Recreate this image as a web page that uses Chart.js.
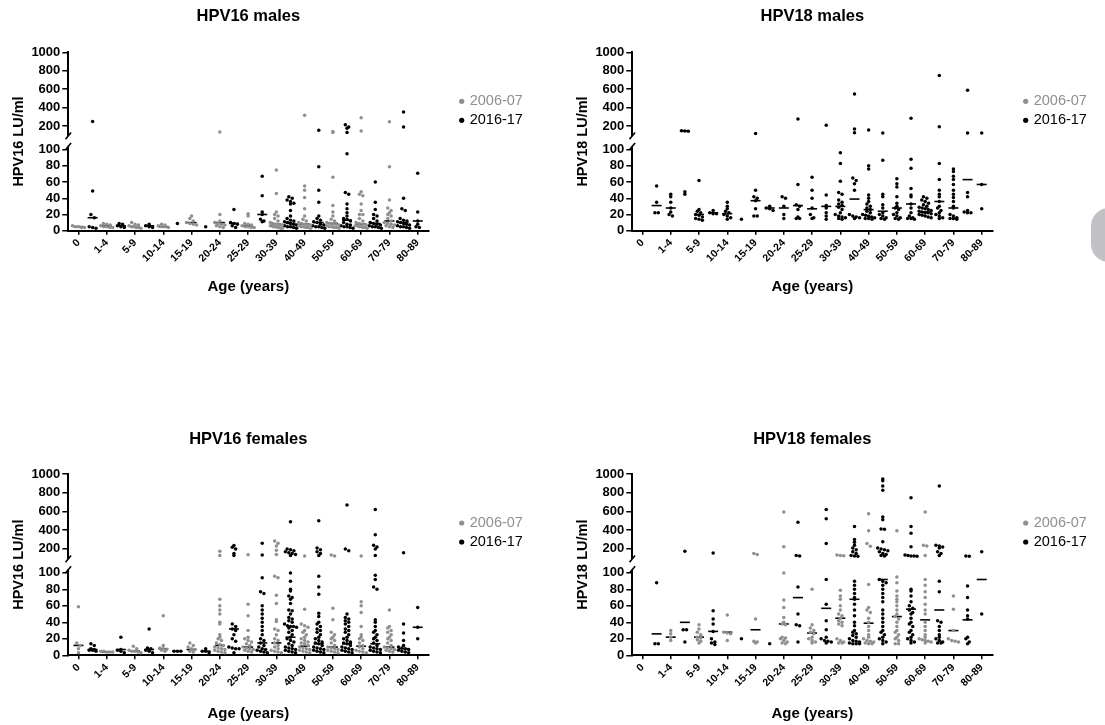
<!DOCTYPE html>
<html>
<head>
<meta charset="utf-8">
<script src="https://cdn.jsdelivr.net/npm/chart.js@4.4.1/dist/chart.umd.min.js"></script>
<style>
  html, body { margin: 0; padding: 0; background: #fff; }
  body { width: 1105px; height: 725px; position: relative; overflow: hidden; }
  .panel { position: absolute; }
  .tab { position: absolute; left: 1091px; top: 208px; width: 40px; height: 54px; border-radius: 18px; background: #c0c1c4; }
</style>
</head>
<body>
<div class="panel" style="left:0;top:0"><canvas id="hpv16Males" width="550" height="300"></canvas></div>
<div class="panel" style="left:564px;top:0"><canvas id="hpv18Males" width="541" height="300"></canvas></div>
<div class="panel" style="left:0;top:422px"><canvas id="hpv16Females" width="550" height="303"></canvas></div>
<div class="panel" style="left:564px;top:422px"><canvas id="hpv18Females" width="541" height="303"></canvas></div>
<div class="tab"></div>
<script>
const ageGroups = ['0', '1-4', '5-9', '10-14', '15-19', '20-24', '25-29', '30-39', '40-49', '50-59', '60-69', '70-79', '80-89'];
const seriesNames = ['2006-07', '2016-17'];
const lowTicks = [0, 20, 40, 60, 80, 100];
const highTicks = [200, 400, 600, 800, 1000];

// HPV16 males, LU/ml per age group
const hpv16MalesOld = [
  [6, 5, 5, 4, 4], [9, 8, 7, 6, 5, 5, 4, 4], [10, 8, 7, 6, 5, 5, 4, 4, 3], [8, 7, 6, 5, 5, 4],
  [18, 15, 12, 10, 9, 8, 7], [135, 20, 12, 10, 9, 8, 7, 6, 5, 4], [21, 18, 9, 8, 7, 6, 5, 5, 4, 4],
  [75, 46, 23, 20, 18, 15, 12, 10, 9, 8, 8, 7, 7, 6, 6, 5, 5, 5, 4, 4, 3, 3],
  [316, 55, 50, 41, 27, 18, 14, 12, 10, 9, 8, 7, 7, 6, 5, 5, 4, 4, 3],
  [140, 130, 66, 31, 23, 18, 14, 12, 10, 9, 8, 8, 7, 6, 5, 5, 4, 4, 3],
  [291, 147, 48, 45, 43, 33, 25, 20, 20, 15, 12, 10, 9, 8, 7, 6, 6, 5, 5, 4, 4, 3],
  [246, 79, 38, 28, 25, 22, 20, 18, 15, 12, 10, 9, 8, 7, 6, 5, 4], []
];
const hpv16MalesOldMedian = [5, 6, 5, 5, 10, 10, 6, 8, 8, 9, 8, 12, null];
const hpv16MalesNew = [
  [248, 49, 20, 16, 5, 4, 3], [9, 8, 6, 5, 4], [8, 6, 5, 4], [9], [5], [26, 10, 9, 8, 6, 4],
  [67, 43, 23, 20, 14, 12, 11],
  [42, 40, 38, 36, 34, 33, 25, 18, 15, 13, 12, 11, 10, 9, 8, 7, 6, 5, 5, 4, 3],
  [153, 79, 50, 35, 18, 15, 13, 11, 10, 8, 7, 6, 5, 5, 4, 3],
  [214, 190, 175, 130, 95, 47, 45, 33, 27, 22, 18, 15, 14, 12, 10, 8, 7, 6, 5, 5, 4, 3],
  [60, 35, 26, 20, 18, 15, 12, 10, 9, 8, 7, 6, 5, 5, 4, 3],
  [353, 189, 40, 27, 25, 15, 13, 12, 11, 10, 9, 8, 7, 6, 5, 5, 4, 3],
  [71, 23, 12, 8, 5, 4]
];
const hpv16MalesNewMedian = [16, 6, 6, null, null, 9, 20, 9, 10, 13, 9, 10, 12];

// HPV18 males
const hpv18MalesOld = [
  [], [45, 42, 35, 28, 23, 20, 18], [62, 26, 24, 22, 20, 19, 17, 15, 14, 13], [35, 30, 27, 24, 22, 20, 18, 16, 14],
  [120, 50, 42, 40, 37, 27, 18, 18], [42, 40, 30, 20, 15], [66, 50, 40, 28, 20, 16, 15],
  [96, 83, 61, 47, 45, 38, 35, 33, 31, 29, 26, 22, 20, 18, 17, 16, 15, 14],
  [157, 80, 76, 44, 40, 36, 33, 30, 28, 26, 24, 22, 20, 19, 18, 17, 16, 15, 15, 14],
  [64, 58, 54, 42, 34, 30, 28, 26, 22, 20, 18, 16, 15, 14],
  [42, 40, 38, 36, 34, 32, 30, 29, 28, 27, 26, 25, 24, 23, 22, 22, 21, 20, 19, 18, 17, 16],
  [76, 73, 67, 63, 57, 50, 45, 41, 36, 30, 28, 20, 18, 16, 15, 15, 14], []
];
const hpv18MalesOldMedian = [null, 28, 20, 21, 37, 28, 27, 30, 26, 28, 23, 28, null];
const hpv18MalesNew = [
  [55, 35, 22, 22], [148, 145, 142, 48, 45], [25, 22, 21, 21], [14], [30, 28, 27, 25],
  [276, 57, 32, 30, 26, 17, 15, 15], [207, 44, 31, 28, 22, 18, 14],
  [547, 167, 128, 65, 62, 58, 50, 20, 18, 17, 16, 15],
  [125, 87, 45, 42, 32, 28, 22, 20, 18, 16, 15, 14],
  [283, 88, 77, 52, 44, 42, 33, 28, 22, 18, 16, 15, 15, 14],
  [747, 193, 83, 63, 50, 45, 42, 36, 30, 28, 25, 22, 20, 18, 16, 15],
  [587, 124, 47, 42, 25, 23, 22, 22], [124, 57, 27]
];
const hpv18MalesNewMedian = [31, 145, 22, null, 28, 31, 30, 39, 24, 33, 36, 63, 57];

// HPV16 females
const hpv16FemalesOld = [
  [59, 15, 12, 8, 3], [5, 5, 4, 4, 4], [11, 8, 6, 5, 5, 4, 3], [48, 12, 9, 8, 7, 6, 5], [15, 12, 10, 8, 7, 5, 4],
  [175, 130, 68, 60, 55, 50, 40, 38, 25, 22, 20, 18, 15, 13, 12, 10, 9, 8, 7, 6, 5, 4, 3],
  [138, 62, 48, 30, 22, 20, 18, 16, 14, 12, 10, 9, 8, 7, 6, 5, 4],
  [285, 260, 230, 185, 140, 96, 94, 73, 63, 43, 41, 32, 30, 25, 20, 18, 15, 12, 10, 8, 6, 5, 4, 3],
  [125, 56, 38, 36, 34, 30, 28, 25, 22, 20, 18, 16, 15, 14, 12, 10, 9, 8, 7, 6, 5, 4, 3],
  [135, 125, 57, 43, 28, 25, 22, 20, 18, 15, 12, 10, 9, 8, 7, 6, 5, 4, 3],
  [125, 65, 60, 52, 35, 25, 22, 20, 18, 15, 12, 10, 8, 6, 5, 4, 3],
  [55, 35, 33, 30, 28, 25, 22, 20, 18, 15, 12, 10, 9, 8, 7, 6, 5, 4], []
];
const hpv16FemalesOldMedian = [12, 4, 5, 8, 7, 12, 10, 15, 11, 10, 11, 10, null];
const hpv16FemalesNew = [
  [14, 12, 8, 7, 6, 6, 5], [22, 7, 6, 5, 3], [32, 9, 8, 6, 5, 3], [5, 5, 5], [8, 5, 5, 3],
  [236, 218, 200, 150, 130, 38, 35, 32, 30, 25, 20, 17, 10, 9, 8, 8, 3],
  [260, 135, 94, 77, 75, 60, 55, 50, 45, 40, 35, 30, 25, 20, 18, 15, 12, 10, 8, 7, 6, 5, 4, 3],
  [490, 200, 190, 180, 170, 160, 150, 140, 130, 100, 90, 80, 78, 72, 70, 68, 63, 55, 54, 50, 46, 44, 42, 40,
   38, 36, 35, 35, 34, 33, 30, 28, 25, 22, 20, 18, 16, 14, 12, 10, 9, 8, 7, 6, 5, 4, 3],
  [500, 210, 190, 170, 150, 130, 96, 83, 74, 51, 47, 40, 38, 35, 32, 30, 28, 25, 22, 20, 18, 16, 15, 14,
   12, 10, 9, 8, 7, 6, 5, 4, 3],
  [670, 200, 180, 50, 46, 44, 42, 40, 38, 35, 32, 30, 28, 25, 22, 20, 18, 16, 15, 14, 12, 10, 9, 8, 7, 6, 5, 4, 3],
  [620, 350, 240, 220, 200, 130, 97, 92, 83, 80, 43, 40, 35, 30, 28, 25, 22, 20, 18, 15, 12, 10, 9, 8, 7, 6, 5, 4, 3],
  [160, 38, 27, 18, 12, 10, 9, 8, 7, 6, 5, 4, 3], [58, 34, 20]
];
const hpv16FemalesNewMedian = [7, 7, 7, 5, 5, 32, 15, 22, 14, 14, 14, 8, 34];

// HPV18 females
const hpv18FemalesOld = [
  [], [30, 26, 22, 18], [37, 32, 28, 25, 22, 21, 19, 17, 15], [49, 28, 27, 26, 18], [150, 140, 44, 17, 16, 15],
  [594, 222, 100, 67, 58, 46, 40, 38, 37, 22, 21, 20, 18, 16, 15, 14],
  [80, 37, 33, 30, 28, 26, 22, 20, 18, 16, 15],
  [135, 130, 128, 79, 72, 68, 60, 55, 50, 48, 45, 42, 40, 38, 36, 20, 18, 16, 15, 15],
  [576, 395, 258, 229, 86, 58, 55, 52, 45, 40, 35, 30, 25, 22, 20, 18, 17, 16, 15, 14, 14],
  [395, 95, 88, 78, 72, 68, 65, 60, 55, 50, 47, 44, 40, 35, 30, 28, 25, 22, 20, 18, 14, 14],
  [594, 240, 230, 130, 92, 85, 77, 70, 62, 55, 50, 40, 35, 30, 25, 22, 20, 19, 18, 17, 16, 15],
  [72, 56, 30, 20, 18, 17, 16], []
];
const hpv18FemalesOldMedian = [null, 22, 22, 28, 31, 38, 27, 45, 39, 47, 43, 30, null];
const hpv18FemalesNew = [
  [88, 14, 14], [175, 31, 31, 16], [156, 54, 44, 38, 29, 20, 16, 15, 13], [20], [14],
  [486, 130, 125, 83, 50, 37, 36, 16],
  [620, 522, 258, 92, 62, 42, 31, 22, 20, 18, 17, 16, 15],
  [439, 300, 270, 240, 210, 190, 170, 150, 130, 125, 122, 90, 85, 80, 75, 70, 68, 62, 55, 48, 40, 36, 30, 28,
   26, 24, 22, 20, 18, 17, 16, 15, 14, 14, 14],
  [946, 928, 873, 826, 540, 511, 413, 410, 276, 210, 200, 190, 180, 170, 150, 140, 130, 125, 92, 90, 88, 85,
   80, 75, 70, 65, 55, 50, 45, 40, 35, 30, 28, 25, 22, 20, 18, 16, 14],
  [747, 439, 367, 222, 135, 130, 125, 125, 122, 80, 78, 72, 65, 60, 57, 55, 52, 50, 45, 40, 38, 35, 30, 28,
   25, 22, 20, 18, 16, 15],
  [873, 240, 230, 220, 210, 170, 150, 130, 90, 77, 42, 40, 35, 30, 25, 22, 20, 18, 16, 15, 15],
  [125, 122, 84, 70, 55, 48, 44, 22, 20, 16, 14], [170, 50]
];
const hpv18FemalesNewMedian = [26, 40, 29, null, null, 70, 57, 68, 92, 56, 55, 43, 92];

const FONT = '"Liberation Sans", Arial, Helvetica, sans-serif';
const GREY = '#8f8f8f';
const BLACK = '#000000';

// 2006-07 sits on the labelled position, 2016-17 half a step to its right
function slotOf(i, isNew) {
  if (!isNew) return 2 * i;
  return i === ageGroups.length - 1 ? 2 * i : 2 * i + 1;
}

// spread dots that would overlap sideways, like a column scatter
function swarm(values, slot, isHigh) {
  const bin = isHigh ? 40 : 4.5;
  const bins = {};
  values.forEach(v => {
    const k = Math.round(v / bin);
    (bins[k] = bins[k] || []).push(v);
  });
  const pts = [];
  Object.values(bins).forEach(g => {
    const n = g.length;
    const step = n > 1 ? Math.min(0.24, 0.85 / (n - 1)) : 0;
    g.forEach((v, j) => pts.push({ x: slot + (j - (n - 1) / 2) * step, y: v }));
  });
  return pts;
}

function dotSet(label, pts, axis, colour) {
  return {
    label, data: pts, yAxisID: axis, clip: false,
    pointRadius: 1.75, pointHoverRadius: 1.75, pointBorderWidth: 0,
    backgroundColor: colour, borderColor: colour
  };
}

function medianSet(pts, axis) {
  return {
    label: 'median', data: pts, yAxisID: axis, clip: false,
    pointStyle: 'line', pointRadius: 5, pointHoverRadius: 5,
    borderColor: BLACK, pointBorderWidth: 1.6, backgroundColor: BLACK
  };
}

function buildDatasets(oldVals, oldMed, newVals, newMed, oldColour) {
  const sets = [];
  [[oldVals, oldMed, false, oldColour, seriesNames[0]], [newVals, newMed, true, BLACK, seriesNames[1]]]
    .forEach(([vals, meds, isNew, colour, name]) => {
      const low = [], high = [], medLow = [], medHigh = [];
      vals.forEach((group, i) => {
        const slot = slotOf(i, isNew);
        low.push(...swarm(group.filter(v => v <= 100), slot, false));
        high.push(...swarm(group.filter(v => v > 100), slot, true));
        const m = meds[i];
        if (m != null) (m > 100 ? medHigh : medLow).push({ x: slot, y: m });
      });
      sets.push(dotSet(name, low, 'yLow', colour), dotSet(name, high, 'yHigh', colour),
        medianSet(medLow, 'yLow'), medianSet(medHigh, 'yHigh'));
    });
  return sets;
}

// y title, legend and the axis break marks
const decor = {
  id: 'decor',
  afterDraw(chart, args, opts) {
    const { ctx, chartArea } = chart;
    const low = chart.scales.yLow;
    ctx.save();
    // axis break
    const x = low.right;
    const yA = low.getPixelForValue(117);
    const yB = low.getPixelForValue(104);
    ctx.fillStyle = '#fff';
    ctx.fillRect(x - 3, yA, 6, yB - yA);
    ctx.strokeStyle = BLACK;
    ctx.lineWidth = 1.6;
    [yA, yB].forEach(y => {
      ctx.beginPath();
      ctx.moveTo(x - 2.8, y + 3.4);
      ctx.lineTo(x + 2.8, y - 3.4);
      ctx.stroke();
    });
    // y title
    ctx.translate(opts.yTitleX, (chartArea.top + chartArea.bottom) / 2);
    ctx.rotate(-Math.PI / 2);
    ctx.font = 'bold 14.5px ' + FONT;
    ctx.fillStyle = BLACK;
    ctx.textAlign = 'center';
    ctx.textBaseline = 'middle';
    ctx.fillText(opts.yTitle, 0, 0);
    ctx.restore();
    // legend
    ctx.save();
    ctx.font = '14.5px ' + FONT;
    ctx.textBaseline = 'middle';
    [[seriesNames[0], GREY], [seriesNames[1], BLACK]].forEach(([name, colour], i) => {
      const ly = chartArea.top + 49 + i * 19;
      const lx = chartArea.right + 33.4;
      ctx.fillStyle = colour;
      ctx.beginPath();
      ctx.arc(lx, ly, 2.6, 0, Math.PI * 2);
      ctx.fill();
      ctx.fillText(name, lx + 8, ly);
    });
    ctx.restore();
  }
};

function yTicks() {
  return {
    autoSkip: false, color: BLACK, padding: 2,
    font: { family: FONT, size: 13, weight: 'bold' },
    callback: v => String(v)
  };
}

function makePanel(id, title, yTitle, oldVals, oldMed, newVals, newMed, oldColour, lay) {
  const canvas = document.getElementById(id);
  return new Chart(canvas, {
    type: 'scatter',
    data: { datasets: buildDatasets(oldVals, oldMed, newVals, newMed, oldColour) },
    options: {
      responsive: false,
      animation: false,
      devicePixelRatio: 1,
      events: [],
      layout: { padding: { top: 0, left: 0, right: canvas.width - 428.3, bottom: 0 } },
      plugins: {
        legend: { display: false },
        tooltip: { enabled: false },
        title: {
          display: true, text: title, fullSize: false, color: BLACK,
          font: { family: FONT, size: 16.5, weight: 'bold' },
          padding: { top: lay.titleTop, bottom: lay.titleBottom }
        },
        decor: { yTitle, yTitleX: 18.5 }
      },
      scales: {
        x: {
          type: 'linear', min: -0.72, max: 24.75,
          afterBuildTicks: s => { s.ticks = ageGroups.map((g, i) => ({ value: 2 * i })); },
          afterFit: s => { s.height = lay.xHeight; },
          ticks: {
            autoSkip: false, minRotation: 45, maxRotation: 45, padding: 2, color: BLACK,
            font: { family: FONT, size: 10.5, weight: 'bold' },
            callback: v => ageGroups[Math.round(v / 2)]
          },
          grid: { drawOnChartArea: false, color: BLACK, lineWidth: 1.5, tickLength: 4 },
          border: { color: BLACK, width: 2 },
          title: {
            display: true, text: 'Age (years)', color: BLACK,
            font: { family: FONT, size: 15, weight: 'bold' },
            padding: { top: 0, bottom: lay.xTitlePad }
          }
        },
        yLow: {
          type: 'linear', position: 'left', stack: 'v', stackWeight: 1.2,
          min: 0, max: 120,
          afterBuildTicks: s => { s.ticks = lowTicks.map(v => ({ value: v })); },
          afterFit: s => { s.width = 68.3; },
          ticks: yTicks(),
          grid: { drawOnChartArea: false, color: BLACK, lineWidth: 1.5, tickLength: 6 },
          border: { color: BLACK, width: 2 }
        },
        yHigh: {
          type: 'linear', position: 'left', stack: 'v', stackWeight: 1,
          min: 120, max: 1000,
          afterBuildTicks: s => { s.ticks = highTicks.map(v => ({ value: v })); },
          afterFit: s => { s.width = 68.3; },
          ticks: yTicks(),
          grid: { drawOnChartArea: false, color: BLACK, lineWidth: 1.5, tickLength: 6 },
          border: { color: BLACK, width: 2 }
        }
      }
    },
    plugins: [decor]
  });
}

const topLayout = { titleTop: 7, titleBottom: 25.5, xHeight: 69.3, xTitlePad: 4 };
const bottomLayout = { titleTop: 8, titleBottom: 24.2, xHeight: 69.7, xTitlePad: 2 };

makePanel('hpv16Males', 'HPV16 males', 'HPV16 LU/ml',
  hpv16MalesOld, hpv16MalesOldMedian, hpv16MalesNew, hpv16MalesNewMedian, GREY, topLayout);
// in the source this panel shows every dot in black
makePanel('hpv18Males', 'HPV18 males', 'HPV18 LU/ml',
  hpv18MalesOld, hpv18MalesOldMedian, hpv18MalesNew, hpv18MalesNewMedian, BLACK, topLayout);
makePanel('hpv16Females', 'HPV16 females', 'HPV16 LU/ml',
  hpv16FemalesOld, hpv16FemalesOldMedian, hpv16FemalesNew, hpv16FemalesNewMedian, GREY, bottomLayout);
makePanel('hpv18Females', 'HPV18 females', 'HPV18 LU/ml',
  hpv18FemalesOld, hpv18FemalesOldMedian, hpv18FemalesNew, hpv18FemalesNewMedian, GREY, bottomLayout);
</script>
</body>
</html>
